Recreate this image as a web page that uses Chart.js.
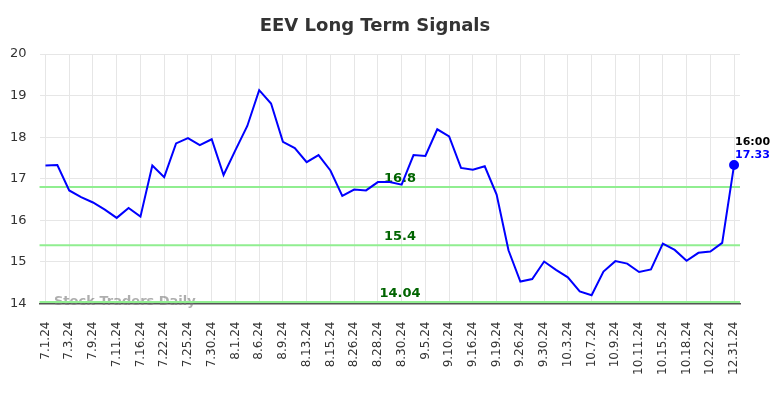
<!DOCTYPE html>
<html>
<head>
<meta charset="utf-8">
<script src="https://cdn.jsdelivr.net/npm/chart.js@4.4.1/dist/chart.umd.min.js"></script>
<style>
  html, body { margin: 0; padding: 0; background: #fff; }
  #wrap { width: 784px; height: 398px; }
</style>
</head>
<body>
<div id="wrap"><canvas id="signalsChart"></canvas></div>
<script>
const tickLabels = ['7.1.24', '7.3.24', '7.9.24', '7.11.24', '7.16.24', '7.22.24', '7.25.24', '7.30.24',
  '8.1.24', '8.6.24', '8.9.24', '8.13.24', '8.15.24', '8.26.24', '8.28.24', '8.30.24', '9.5.24',
  '9.10.24', '9.16.24', '9.19.24', '9.26.24', '9.30.24', '10.3.24', '10.7.24', '10.9.24',
  '10.11.24', '10.15.24', '10.18.24', '10.22.24', '12.31.24']

const prices = [17.32, 17.33, 16.72, 16.56, 16.43, 16.26, 16.06, 16.30, 16.09, 17.32,
  17.04, 17.85, 17.98, 17.81, 17.95, 17.09, 17.69, 18.27, 19.13, 18.81,
  17.89, 17.74, 17.40, 17.57, 17.20, 16.59, 16.74, 16.72, 16.92, 16.92,
  16.86, 17.57, 17.55, 18.19, 18.02, 17.26, 17.22, 17.30, 16.62, 15.28,
  14.53, 14.59, 15.01, 14.81, 14.63, 14.29, 14.20, 14.77, 15.02, 14.96,
  14.76, 14.82, 15.44, 15.29, 15.03, 15.22, 15.25, 15.46, 17.33]

const levels = [16.8, 15.4, 14.04]
const lastTime = '16:00'

// one labelled tick every second trading day
const categories = prices.map((_, i) => (i % 2 === 0 ? tickLabels[i / 2] : ''))

const FONT = '"DejaVu Sans", sans-serif'

const decorations = {
  id: 'decorations',
  beforeDatasetsDraw(chart) {
    const { ctx, chartArea, scales } = chart
    ctx.save()
    ctx.font = 'bold 13px ' + FONT
    ctx.fillStyle = 'rgba(120, 120, 120, 0.6)'
    ctx.textAlign = 'left'
    ctx.textBaseline = 'middle'
    ctx.fillText('Stock Traders Daily', 54, 302)

    levels.forEach(level => {
      const y = scales.y.getPixelForValue(level)
      ctx.strokeStyle = '#90ee90'
      ctx.lineWidth = 2
      ctx.beginPath()
      ctx.moveTo(chartArea.left, y)
      ctx.lineTo(chartArea.right, y)
      ctx.stroke()
      ctx.fillStyle = '#006400'
      ctx.font = 'bold 13px ' + FONT
      ctx.textAlign = 'center'
      ctx.textBaseline = 'bottom'
      ctx.fillText(String(level), 400, y - 2)
    })
    ctx.restore()
  },
  afterDraw(chart) {
    const { ctx, scales } = chart
    const last = prices.length - 1
    const x = scales.x.getPixelForValue(last)
    const y = scales.y.getPixelForValue(prices[last])
    ctx.save()
    ctx.font = 'bold 18px ' + FONT
    ctx.fillStyle = '#333'
    ctx.textAlign = 'center'
    ctx.textBaseline = 'middle'
    ctx.fillText('EEV Long Term Signals', 375, 26)

    ctx.font = 'bold 11px ' + FONT
    ctx.textAlign = 'left'
    ctx.fillStyle = '#000'
    ctx.fillText(lastTime, x + 1, y - 23)
    ctx.fillStyle = '#0000ff'
    ctx.fillText(prices[last].toFixed(2), x + 1, y - 10)
    ctx.restore()
  }
}

new Chart(document.getElementById('signalsChart'), {
  type: 'line',
  data: {
    labels: categories,
    datasets: [{
      data: prices,
      borderColor: '#0000ff',
      backgroundColor: '#0000ff',
      borderWidth: 2,
      tension: 0,
      fill: false,
      pointRadius: ctx => (ctx.dataIndex === prices.length - 1 ? 4 : 0),
      pointHoverRadius: 0
    }]
  },
  options: {
    responsive: true,
    maintainAspectRatio: false,
    animation: false,
    layout: {
      padding: { top: 54, left: -3, right: 44, bottom: 5 }
    },
    plugins: {
      legend: { display: false },
      tooltip: { enabled: false }
    },
    scales: {
      x: {
        offset: true,
        grid: { color: '#e6e6e6', drawTicks: false },
        border: { color: '#555', width: 1.5 },
        ticks: {
          autoSkip: false,
          maxRotation: 90,
          minRotation: 90,
          padding: 18,
          color: '#333',
          font: { family: FONT, size: 12 },
          callback: (value, index) => (categories[index] ? categories[index] : null)
        }
      },
      y: {
        min: 14,
        max: 20,
        grid: { color: '#e6e6e6', drawTicks: false },
        border: { display: false },
        ticks: {
          stepSize: 1,
          padding: 13,
          color: '#333',
          font: { family: FONT, size: 13 }
        }
      }
    }
  },
  plugins: [decorations]
})
</script>
</body>
</html>
